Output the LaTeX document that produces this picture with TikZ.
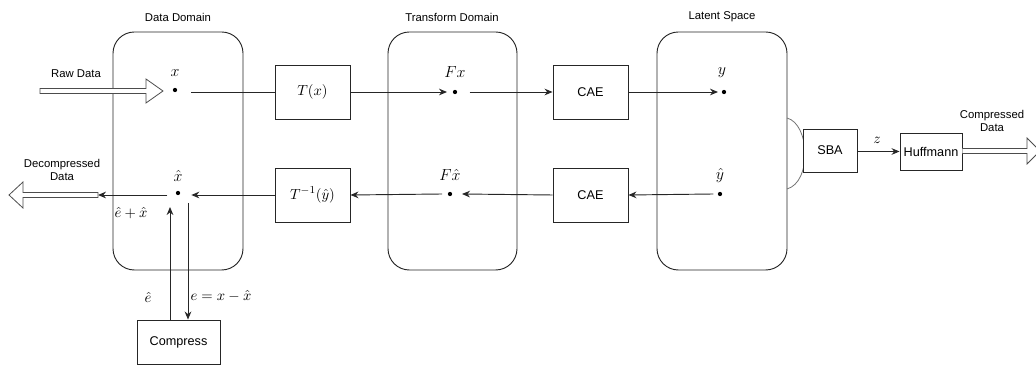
\documentclass[tikz,border=0pt]{standalone}
\usepackage{fontspec}
\setsansfont{Liberation Sans}
\usetikzlibrary{arrows.meta}
\begin{document}
\begin{tikzpicture}[x=0.75pt,y=-0.75pt,
  domainbox/.style={draw=black!85,line width=0.7pt,rounded corners=16pt},
  blk/.style={draw=black!85,fill=white,line width=0.7pt,minimum width=#1,inner sep=0pt,font=\sffamily\fontsize{9.5}{11}\selectfont},
  blk/.default=56.25pt,
  ttl/.style={font=\sffamily\fontsize{8.5}{10}\selectfont,align=center,inner sep=0pt},
  mlab/.style={font=\fontsize{11.5}{13}\selectfont,inner sep=0pt},
  slab/.style={font=\fontsize{10.5}{12}\selectfont,inner sep=0pt},
  dot/.style={circle,fill=black,inner sep=0pt,minimum size=3.2pt},
  conn/.style={draw=black!85,line width=0.7pt},
  arr/.style={conn,-{Stealth[length=6pt,width=5pt]}},
  hollow/.style={draw=black!70,fill=white,line width=0.6pt,line join=miter}
]
\useasboundingbox (0,0) rectangle (1036,373);

% domains
\draw[domainbox] (113,32) rectangle (243,270);
\draw[domainbox] (388,32) rectangle (517,270);
\draw[domainbox] (657,32) rectangle (787,270);
\node[ttl] (tdd) at (178,17) {Data Domain};
\node[ttl] (ttd) at (452,17) {Transform Domain};
\node[ttl] (tls) at (722,17) {Latent Space};

% arc behind SBA
\draw[draw=black!55,line width=0.6pt] (787,118) .. controls (810,124) and (812,182) .. (787,189);

% blocks
\node[blk,minimum height=40.5pt,font=\fontsize{11}{13}\selectfont] (tx) at (312.5,92) {$T(x)$};
\node[blk,minimum height=40.5pt,font=\fontsize{11}{13}\selectfont] (tinv) at (312.5,195) {$T^{-1}(\hat y)$};
\node[blk,minimum height=40.5pt] (cae1) at (590.5,92) {CAE};
\node[blk,minimum height=40.5pt] (cae2) at (590.5,195) {CAE};
\node[blk=40.5pt,minimum height=32.25pt] (sba) at (830,150.5) {SBA};
\node[blk=46.5pt,minimum height=27.75pt] (huff) at (931,151.5) {Huffmann};
\node[blk=62.25pt,minimum height=33pt] (comp) at (178.5,342) {Compress};

% dots and labels
\node[dot] (xd) at (175,90) {};
\node[mlab] (xl) at (175,73) {$x$};
\node[dot] (fxd) at (455,92) {};
\node[mlab] (fxl) at (455,72) {$Fx$};
\node[dot] (yd) at (724,92) {};
\node[mlab] (yl) at (722,73) {$y$};
\node[dot] (xhd) at (178,193) {};
\node[mlab] (xhl) at (178,176) {$\hat x$};
\node[dot] (fxhd) at (450,194) {};
\node[mlab] (fxhl) at (450,175) {$F\hat x$};
\node[dot] (yhd) at (720,194) {};
\node[mlab] (yhl) at (720,176) {$\hat y$};

% upper path
\draw[conn] ([xshift=12pt]xd.center |- tx.west) -- (tx.west);
\draw[arr] (tx.east) -- ([xshift=-6pt]fxd.center |- tx.east);
\draw[arr] ([xshift=11pt]fxd.center) -- (cae1.west);
\draw[arr] (cae1.east) -- ([xshift=-4.5pt]yd.center);
% lower path
\draw[arr] ([xshift=-5pt]yhd.center) -- (cae2.east);
\draw[arr] (cae2.west) -- ([xshift=9pt]fxhd.center);
\draw[arr] ([xshift=-6pt]fxhd.center) -- (tinv.west -| tinv.east);
\draw[arr] (tinv.west) -- ([xshift=10pt]xhd.center |- tinv.west);
\coordinate (dout) at (98,195);
\draw[arr] ([xshift=-8pt]xhd.center |- tinv.west) -- (dout);
\node[slab] (ehx) at (131,213) {$\hat e+\hat x$};

% compress loop
\draw[arr] (comp.north -| 170,0) -- (170,207);
\draw[arr] (188,203) -- (comp.north -| 188,0);
\node[slab] (ehl) at (148,297) {$\hat e$};
\node[slab] (el) at (221,296) {$e=x-\hat x$};

% SBA -> Huffmann
\draw[arr] (sba.east |- huff.west) -- (huff.west);
\node[slab] (zl) at (877,140) {$z$};

% hollow arrows
\draw[hollow] (40,88.5) -- (146,88.5) -- (146,79) -- (163,91) -- (146,103) -- (146,93.5) -- (40,93.5) -- cycle;
\node[ttl] (rawl) at (76,74) {Raw Data};
\draw[hollow] (98,192.5) -- (23,192.5) -- (23,182) -- (9,195) -- (23,208) -- (23,197.5) -- (98,197.5) -- cycle;
\node[ttl] (decl) at (62,170) {Decompressed\\Data};
\draw[hollow] (huff.east |- 0,148.5) -- (1027,148.5) -- (1027,138) -- (1040,151) -- (1027,164) -- (1027,153.5) -- (huff.east |- 0,153.5);
\node[ttl] (compl) at (992,121) {Compressed\\Data};
\end{tikzpicture}
\end{document}
